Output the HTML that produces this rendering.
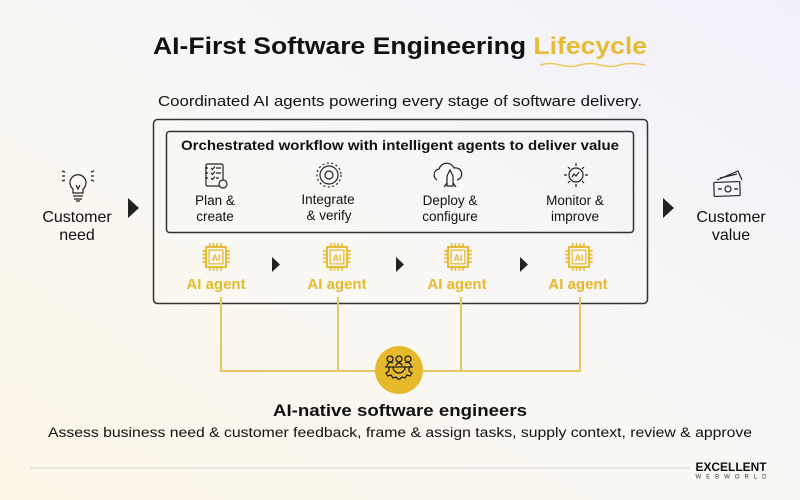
<!DOCTYPE html>
<html><head><meta charset="utf-8"><style>
html,body{margin:0;padding:0;width:800px;height:500px;overflow:hidden}
svg{display:block}
text{font-family:"Liberation Sans",sans-serif}
</style></head><body>
<svg width="800" height="500" viewBox="0 0 800 500" xmlns="http://www.w3.org/2000/svg">
<defs>
<linearGradient id="bg" x1="0" y1="1" x2="1" y2="0">
<stop offset="0" stop-color="#fcf6e6"/>
<stop offset="0.45" stop-color="#faf8f4"/>
<stop offset="1" stop-color="#f1f0fa"/>
</linearGradient>
<g id="chip" fill="none" stroke="#e6b92c" stroke-width="1.5">
<rect x="-8" y="-8" width="16" height="16"/>
<rect x="-5.5" y="-5.5" width="11" height="11" stroke-width="1"/>
<path d="M-5 -8v-3M-2 -8v-3M1 -8v-3M4 -8v-3M-5 8v3M-2 8v3M1 8v3M4 8v3M-8 -5h-3M-8 -2h-3M-8 1h-3M-8 4h-3M8 -5h3M8 -2h3M8 1h3M8 4h3" stroke-width="1.3"/>
<text x="0" y="3" font-size="7" font-weight="bold" fill="#e6b92c" stroke="none" text-anchor="middle">AI</text>
</g>
</defs>
<rect width="800" height="500" fill="url(#bg)"/>

<text x="400" y="54" font-size="24" font-weight="bold" text-anchor="middle" fill="#111" textLength="494" lengthAdjust="spacingAndGlyphs">AI-First Software Engineering <tspan fill="#e8bb34">Lifecycle</tspan></text>
<path d="M540 65 q10 -3 20 0 t20 0 t20 0 t20 0 t25 0" fill="none" stroke="#edc95a" stroke-width="1.6"/>
<text x="400" y="106" font-size="15" text-anchor="middle" fill="#111" textLength="484" lengthAdjust="spacingAndGlyphs">Coordinated AI agents powering every stage of software delivery.</text>

<rect x="153.5" y="119.5" width="494" height="184" rx="4" fill="none" stroke="#333" stroke-width="1.5"/>
<rect x="166.5" y="131.5" width="467" height="101" rx="3" fill="none" stroke="#333" stroke-width="1.5"/>
<text x="400" y="150" font-size="13.5" font-weight="bold" text-anchor="middle" fill="#111" textLength="438" lengthAdjust="spacingAndGlyphs">Orchestrated workflow with intelligent agents to deliver value</text>

<g fill="none" stroke="#222" stroke-width="1.2">
<rect x="206" y="164" width="17" height="22" rx="1.5"/>
<path d="M205 168h3M205 173h3M205 178h3M211 168l1.5 1.5 2.5-3M216 168h5M211 173l1.5 1.5 2.5-3M216 173h5M211 178l1.5 1.5 2.5-3M216 178h3"/>
<circle cx="223" cy="184" r="4" fill="#faf7f0"/>
<circle cx="329" cy="175" r="9"/><circle cx="329" cy="175" r="4"/><circle cx="329" cy="175" r="12" stroke-dasharray="2 2.5"/>
<path d="M437 180a6 6 0 0 1 2-11a8 8 0 0 1 15-1a6 6 0 0 1 3 12"/>
<path d="M447 186v-10l3-6l3 6v10zM447 183l-3 4M453 183l3 4"/>
<circle cx="576" cy="175" r="7"/>
<path d="M576 163v3M576 184v3M564 175h3M585 175h3M568 167l2 2M582 181l2 2M584 167l-2 2M568 183l2-2"/>
<path d="M572 177l2-3 2 2 3-4"/>
</g>
<g font-size="13.5" fill="#111" text-anchor="middle">
<text x="215" y="205">Plan &amp;</text><text x="215" y="221">create</text>
<text x="328" y="204">Integrate</text><text x="329" y="220">&amp; verify</text>
<text x="450" y="205">Deploy &amp;</text><text x="450" y="221">configure</text>
<text x="575" y="205">Monitor &amp;</text><text x="575" y="221">improve</text>
</g>

<use href="#chip" transform="translate(216 257) scale(1.25)"/>
<use href="#chip" transform="translate(337 257) scale(1.25)"/>
<use href="#chip" transform="translate(458 257) scale(1.25)"/>
<use href="#chip" transform="translate(579 257) scale(1.25)"/>
<g font-size="15" font-weight="bold" fill="#e6b92c" text-anchor="middle">
<text x="216" y="289">AI agent</text><text x="337" y="289">AI agent</text>
<text x="457" y="289">AI agent</text><text x="578" y="289">AI agent</text>
</g>
<g fill="#222">
<path d="M272 257l8 7.5l-8 7.5z"/><path d="M396 257l8 7.5l-8 7.5z"/><path d="M520 257l8 7.5l-8 7.5z"/>
<path d="M128 198l11 10l-11 10z"/><path d="M663 198l11 10l-11 10z"/>
</g>

<g stroke="#e8c665" stroke-width="2" fill="none">
<path d="M221 297v74h359v-74M338 297v74M461 297v74"/>
</g>
<circle cx="399" cy="370" r="24" fill="#e6b92c"/>
<g fill="none" stroke="#222" stroke-width="1.3">
<circle cx="390" cy="359" r="3"/><circle cx="399" cy="359" r="3"/><circle cx="408" cy="359" r="3"/>
<path d="M385 367h28M387 367a4 4 0 0 1 6-4M396 366a3 3 0 0 1 6 0M405 363a4 4 0 0 1 6 4"/>
<path d="M389 367v4l-3 2 2 3 3-1 2 3 3-1 2 2h2l2-2 3 1 2-3 3 1 2-3-3-2v-4"/>
<path d="M393 367a6 6 0 0 0 12 0"/>
</g>

<g fill="none" stroke="#222" stroke-width="1.2">
<path d="M73 189a8 8 0 1 1 10 0v4h-10z"/><path d="M73 196h10M74 199h8M76 201h4M76 185l2 4 2-4"/>
<path d="M62 171l3 1M62 176h3M62 181l3-1M94 171l-3 1M94 176h-3M94 181l-3-1"/>
<rect x="714" y="182" width="26" height="14" rx="1" transform="rotate(-2 727 189)"/>
<path d="M717 180l21-9l4 9M720 178l17-4"/>
<circle cx="728" cy="189" r="3"/><path d="M718 189h4M734 189h4"/>
</g>
<g font-size="16" fill="#111" text-anchor="middle">
<text x="77" y="222">Customer</text><text x="77" y="240">need</text>
<text x="731" y="222">Customer</text><text x="731" y="240">value</text>
</g>

<text x="400" y="416" font-size="17" font-weight="bold" text-anchor="middle" fill="#111" textLength="254" lengthAdjust="spacingAndGlyphs">AI-native software engineers</text>
<text x="400" y="437" font-size="13.5" text-anchor="middle" fill="#111" textLength="704" lengthAdjust="spacingAndGlyphs">Assess business need &amp; customer feedback, frame &amp; assign tasks, supply context, review &amp; approve</text>

<line x1="30" y1="468" x2="690" y2="468" stroke="#dcdcdc" stroke-width="1.2"/>
<text x="731" y="471" font-size="11.5" font-weight="bold" text-anchor="middle" fill="#111" textLength="71" lengthAdjust="spacingAndGlyphs">EXCELLENT</text>
<text x="731" y="478.5" font-size="6" text-anchor="middle" fill="#333" textLength="71" lengthAdjust="spacing">WEBWORLD</text>
</svg>
</body></html>
